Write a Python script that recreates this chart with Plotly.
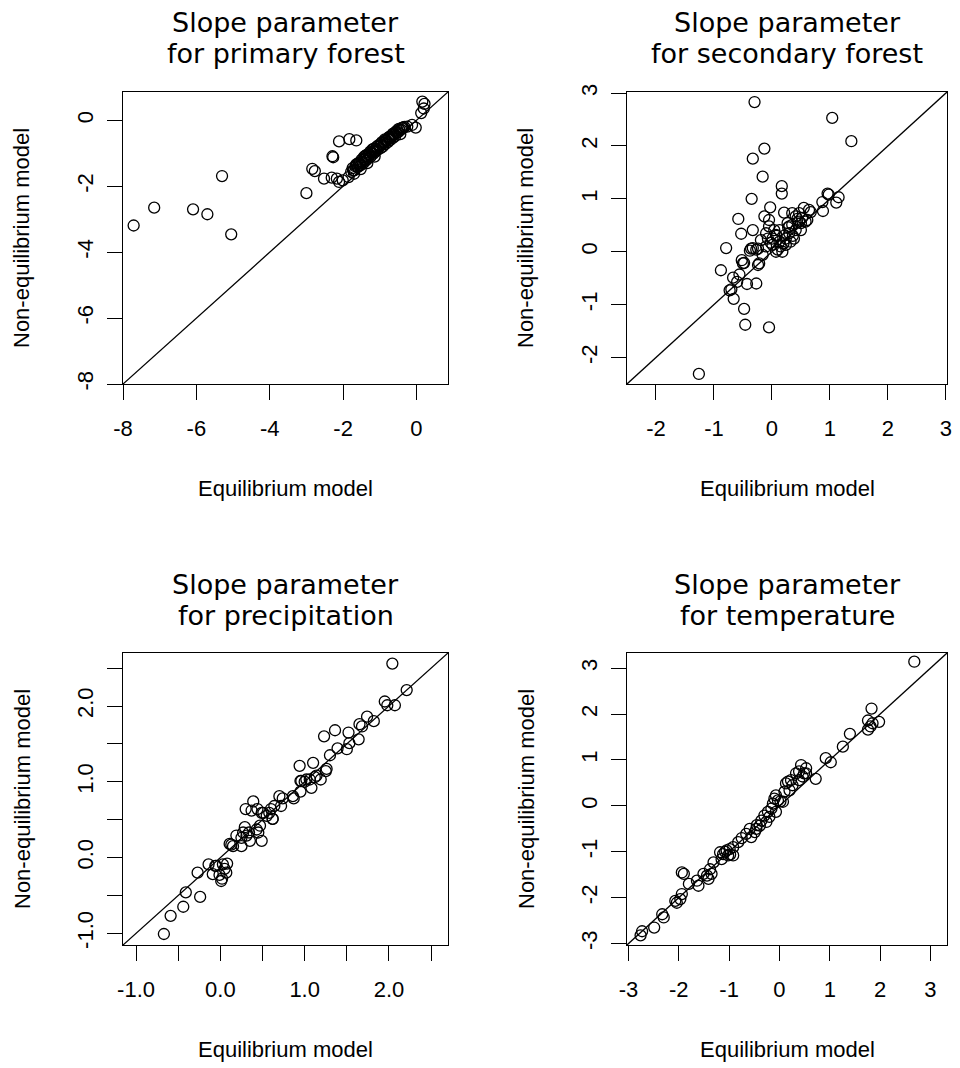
import plotly.graph_objects as go

# Slope parameter estimates: equilibrium model (x) vs non-equilibrium model (y)

# primary forest
pf_equil = [-7.71, -7.15, -6.09, -5.70, -5.30, -5.05, -3.00, -2.84, -2.77, -2.52,
            -2.29, -2.27, -2.11, -1.83, -1.64, -2.31, -2.17, -2.11, -2.01, -1.85,
            -1.72, -1.62, -1.78, -1.74, -1.70, -1.66, -1.60, -1.55, -1.52, -1.48,
            -1.45, -1.42, -1.38, -1.35, -1.32, -1.28, -1.25, -1.22, -1.18, -1.15,
            -1.12, -1.10, -1.06, -1.02, -0.98, -0.95, -0.92, -0.88, -0.85, -0.82,
            -0.78, -0.75, -0.72, -0.68, -0.65, -0.62, -0.58, -0.55, -0.50, -0.46,
            -0.42, -0.38, -0.33, -0.25, -0.12, -0.02, 0.13, 0.16, 0.22, 0.20,
            -1.40, -1.30, -1.20, -1.08, -0.96, -0.86, -0.74, -0.64, -0.52, -0.40,
            -1.65, -1.58, -1.50, -1.44, -1.36, -1.26, -1.16, -1.04, -0.94, -0.84,
            -0.76, -0.66, -0.56, -0.48, -0.44, -0.36, -1.70, -1.52, -1.34, -1.14]
pf_noneq = [-3.19, -2.65, -2.70, -2.85, -1.69, -3.46, -2.21, -1.47, -1.54, -1.77,
            -1.09, -1.12, -0.64, -0.57, -0.61, -1.74, -1.77, -1.87, -1.82, -1.72,
            -1.52, -1.32, -1.56, -1.45, -1.52, -1.40, -1.42, -1.30, -1.36, -1.25,
            -1.30, -1.18, -1.22, -1.10, -1.16, -1.05, -1.10, -0.98, -1.02, -0.92,
            -0.96, -0.85, -0.90, -0.80, -0.84, -0.74, -0.80, -0.68, -0.72, -0.62,
            -0.66, -0.56, -0.60, -0.50, -0.54, -0.44, -0.48, -0.38, -0.36, -0.30,
            -0.28, -0.22, -0.20, -0.19, -0.14, -0.22, 0.22, 0.57, 0.50, 0.36,
            -1.08, -1.02, -0.88, -0.80, -0.70, -0.58, -0.50, -0.40, -0.30, -0.24,
            -1.35, -1.30, -1.20, -1.12, -1.05, -0.95, -0.86, -0.76, -0.66, -0.60,
            -0.52, -0.44, -0.34, -0.26, -0.42, -0.22, -1.62, -1.48, -1.30, -1.10]

# secondary forest
sf_equil = [-0.30, 1.04, 1.37, -0.13, -0.33, -0.16, 0.17, 0.17, -0.35, -0.03,
            -0.58, -0.53, -0.33, -0.79, -0.88, -0.67, -0.56, -0.60, -0.70, -0.66,
            -0.73, -0.43, -0.27, -0.48, -0.46, -0.05, -1.26, -0.52, -0.48, -0.22,
            -0.33, -0.27, -0.38, 0.96, 1.15, 1.11, 0.87, 0.88, 0.64, 0.67,
            0.21, 0.61, 0.35, 0.41, 0.50, 0.58, 0.13, 0.07, 0.24, 0.01,
            -0.10, -0.19, -0.24, -0.36, -0.16, 0.07, 0.15, 0.30, 0.32, 0.41,
            -0.05, -0.13, -0.24, 0.04, 0.47, 0.55, 0.27, 0.35, -0.05, -0.07,
            0.01, 0.13, -0.10, 0.18, 0.24, 0.38, 0.50, 0.47, -0.50, 0.98,
            0.08, 0.20, 0.28, 0.36, 0.44, -0.02, 0.10, 0.22, 0.30, 0.52]
sf_noneq = [2.83, 2.53, 2.09, 1.95, 1.76, 1.42, 1.24, 1.10, 1.00, 0.84,
            0.62, 0.34, 0.41, 0.07, -0.35, -0.49, -0.43, -0.57, -0.71, -0.89,
            -0.73, -0.61, -0.60, -1.08, -1.38, -1.43, -2.31, -0.16, -0.21, -0.22,
            0.07, 0.04, 0.02, 1.10, 1.03, 0.93, 0.94, 0.77, 0.79, 0.75,
            0.74, 0.60, 0.73, 0.67, 0.54, 0.57, 0.41, 0.32, 0.25, 0.13,
            0.35, 0.22, 0.06, 0.06, -0.06, 0.00, 0.10, 0.35, 0.19, 0.41,
            0.60, 0.67, -0.25, 0.41, 0.73, 0.83, 0.54, 0.51, 0.48, 0.25,
            0.25, 0.19, 0.10, 0.00, 0.13, 0.25, 0.41, 0.57, -0.22, 1.08,
            0.30, 0.16, 0.46, 0.30, 0.62, 0.17, 0.04, 0.31, 0.48, 0.64]

# precipitation
pr_equil = [2.04, 2.21, 1.95, 1.98, 2.07, 1.74, 1.82, 1.65, 1.68, 1.64,
            1.36, 1.52, 1.23, 1.53, 1.50, 1.39, 1.30, 1.26, 1.25, 0.94,
            1.10, 0.95, 1.00, 1.06, 1.08, 1.19, 1.14, 0.95, 0.87, 0.74,
            0.70, 0.60, 0.58, 0.62, 0.55, 0.49, 0.39, 0.30, 0.44, 0.47,
            0.45, 0.49, 0.43, 0.29, 0.27, 0.31, 0.25, 0.19, 0.35, 0.34,
            0.13, 0.15, -0.14, -0.06, 0.03, 0.08, -0.09, -0.01, 0.02, 0.07,
            0.05, -0.27, -0.41, -0.24, -0.44, -0.59, -0.67, 1.02, 1.12, 0.86,
            0.72, 0.64, 0.51, 0.37, 0.25, 0.11, -0.05, 0.01, 0.96, 0.62]
pr_noneq = [2.56, 2.21, 2.06, 2.01, 2.01, 1.86, 1.80, 1.76, 1.73, 1.56,
            1.68, 1.65, 1.60, 1.51, 1.43, 1.44, 1.35, 1.17, 1.14, 1.21,
            1.25, 1.01, 1.00, 1.03, 0.92, 1.03, 1.08, 0.87, 0.78, 0.78,
            0.81, 0.64, 0.59, 0.51, 0.55, 0.59, 0.74, 0.64, 0.64, 0.42,
            0.33, 0.22, 0.37, 0.40, 0.33, 0.29, 0.15, 0.29, 0.22, 0.33,
            0.17, 0.15, -0.09, -0.11, -0.09, -0.08, -0.22, -0.23, -0.28, -0.20,
            -0.15, -0.20, -0.46, -0.52, -0.65, -0.77, -1.01, 1.03, 1.06, 0.81,
            0.68, 0.68, 0.59, 0.62, 0.26, 0.18, -0.11, -0.31, 1.01, 0.51]

# temperature
te_equil = [2.68, 1.83, 1.76, 1.85, 1.98, 1.76, 1.81, 1.40, 1.26, 0.92,
            1.02, 0.72, 0.53, 0.49, 0.33, 0.39, 0.17, 0.26, 0.20, 0.10,
            0.46, -0.10, -0.03, 0.07, -0.13, -0.07, -0.23, -0.20, -0.30, -0.26,
            -0.36, -0.39, -0.46, -0.49, -0.59, -0.66, -0.56, -0.82, -0.92, -1.05,
            -1.12, -1.02, -0.92, -1.15, -1.18, -0.99, -1.31, -1.38, -1.35, -1.44,
            -1.51, -1.41, -1.94, -1.90, -1.64, -1.61, -1.80, -1.94, -2.07, -2.04,
            -1.97, -2.33, -2.30, -2.49, -2.73, -2.76, -0.07, -0.16, 0.39, 0.23,
            0.13, 0.43, 0.53, -1.08, -0.98, 0.02, -0.45, -0.75]
te_noneq = [3.14, 2.12, 1.86, 1.80, 1.83, 1.66, 1.73, 1.57, 1.29, 1.04,
            0.95, 0.59, 0.82, 0.71, 0.71, 0.56, 0.53, 0.45, 0.34, 0.31,
            0.64, 0.16, 0.12, 0.09, 0.05, 0.23, -0.13, -0.24, -0.21, -0.35,
            -0.32, -0.43, -0.50, -0.57, -0.50, -0.61, -0.68, -0.79, -0.90, -0.97,
            -1.05, -1.08, -1.08, -1.16, -1.01, -0.94, -1.23, -1.38, -1.48, -1.52,
            -1.48, -1.59, -1.45, -1.48, -1.63, -1.74, -1.70, -1.92, -2.07, -2.11,
            -2.03, -2.36, -2.43, -2.65, -2.73, -2.82, -0.13, -0.06, 0.75, 0.56,
            0.49, 0.89, 0.71, -1.00, -1.06, 0.10, -0.42, -0.70]

panels = [
    dict(x=pf_equil, y=pf_noneq, lim=[-8, 0.86], ticks=[-8, -6, -4, -2, 0],
         labels=["-8", "-6", "-4", "-2", "0"], title=("Slope parameter", "for primary forest")),
    dict(x=sf_equil, y=sf_noneq, lim=[-2.5, 3.02], ticks=[-2, -1, 0, 1, 2, 3],
         labels=["-2", "-1", "0", "1", "2", "3"], title=("Slope parameter", "for secondary forest")),
    dict(x=pr_equil, y=pr_noneq, lim=[-1.155, 2.70],
         ticks=[-1.0, -0.5, 0.0, 0.5, 1.0, 1.5, 2.0, 2.5],
         labels=["-1.0", "", "0.0", "", "1.0", "", "2.0", ""], title=("Slope parameter", "for precipitation")),
    dict(x=te_equil, y=te_noneq, lim=[-3.03, 3.33], ticks=[-3, -2, -1, 0, 1, 2, 3],
         labels=["-3", "-2", "-1", "0", "1", "2", "3"], title=("Slope parameter", "for temperature")),
]

# figure is drawn a few px in from the page edge (body margin), so boxes are offset by that
W, H = 960, 1068
col_px = [(115, 440), (619, 939)]
row_px = [(84, 376), (645, 937)]

tick_font = dict(family="Liberation Sans, Arial, sans-serif", size=22, color="black")
title_font = dict(family="DejaVu Sans, Verdana, sans-serif", size=27, color="black")

fig = go.Figure()
annotations = []

for i, p in enumerate(panels):
    r, c = divmod(i, 2)
    n = "" if i == 0 else str(i + 1)
    x0, x1 = col_px[c]
    y0, y1 = row_px[r]

    fig.add_trace(go.Scatter(
        x=p["x"], y=p["y"], mode="markers", xaxis="x" + n, yaxis="y" + n,
        marker=dict(symbol="circle-open", size=11, color="black", line=dict(width=1.3, color="black")),
        showlegend=False, hoverinfo="x+y"))
    lo, hi = p["lim"]
    fig.add_trace(go.Scatter(
        x=[lo, hi], y=[lo, hi], mode="lines", xaxis="x" + n, yaxis="y" + n,
        line=dict(color="black", width=1.3), showlegend=False, hoverinfo="skip"))

    axis_common = dict(
        range=p["lim"], tickvals=p["ticks"], ticktext=p["labels"], automargin=False,
        showgrid=False, zeroline=False, showline=True, linecolor="black", linewidth=1.3,
        mirror=True, ticks="outside", ticklen=15, tickwidth=1.3, tickcolor="black",
        tickfont=tick_font)
    fig.update_layout({
        "xaxis" + n: dict(axis_common, domain=[x0 / W, x1 / W], anchor="y" + n,
                          ticklabelstandoff=9),
        "yaxis" + n: dict(axis_common, domain=[1 - y1 / H, 1 - y0 / H], anchor="x" + n,
                          tickangle=-90, ticklabelstandoff=5),
    })

    cx = (x0 + x1) / 2 / W
    annotations += [
        dict(text=p["title"][0], x=cx, y=1 - (y0 - 69) / H, font=title_font),
        dict(text=p["title"][1], x=cx, y=1 - (y0 - 38) / H, font=title_font),
        dict(text="Equilibrium model", x=cx, y=1 - (y1 + 104) / H, font=tick_font),
        dict(text="Non-equilibrium model", x=(x0 - 101) / W, y=1 - (y0 + y1) / 2 / H,
             textangle=-90, font=tick_font),
    ]

for a in annotations:
    a.update(xref="paper", yref="paper", showarrow=False, xanchor="center", yanchor="middle")

fig.update_layout(
    width=W, height=H, margin=dict(l=0, r=0, t=0, b=0),
    paper_bgcolor="white", plot_bgcolor="white",
    annotations=annotations,
)

fig.write_html("out.html")
